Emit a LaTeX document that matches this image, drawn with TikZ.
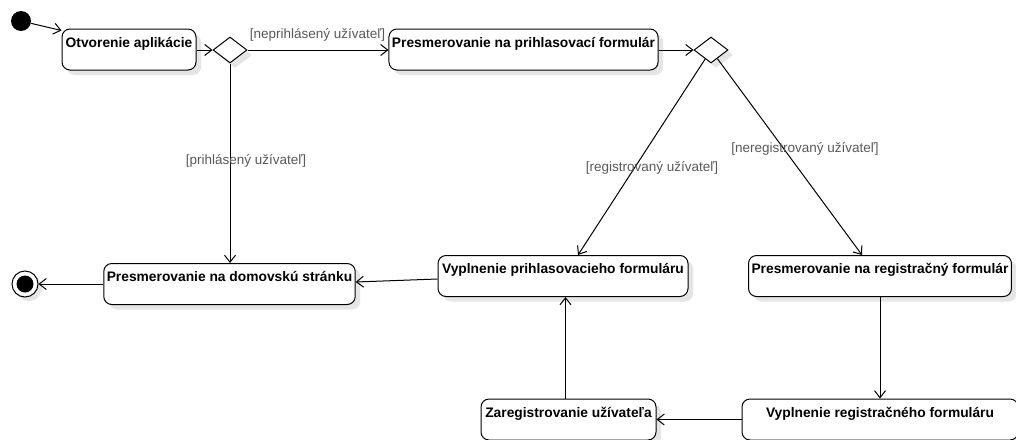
\documentclass[tikz,border=0pt]{standalone}
\usepackage{fontspec}
\setmainfont{Liberation Sans}
\usetikzlibrary{shapes.geometric,arrows.meta,shadows,calc}
\tikzset{
  stbox/.style={draw, line width=1pt, rounded corners=8pt, fill=white,
    font=\fontsize{13.8}{16}\selectfont\bfseries, inner xsep=3pt, inner ysep=5pt,
    text height=13pt, text depth=18pt,
    drop shadow={shadow xshift=5pt, shadow yshift=-5pt, fill=black!10, opacity=1}},
  decis/.style={draw, diamond, line width=1pt, fill=white, inner sep=0pt,
    minimum width=34pt, minimum height=26pt,
    drop shadow={shadow xshift=5pt, shadow yshift=-5pt, fill=black!10, opacity=1}},
  guard/.style={text=black!65, font=\fontsize{13.5}{16}\selectfont, inner sep=0pt},
  flow/.style={line width=1pt, -{Straight Barb[length=7pt,width=11pt]}}
}
\begin{document}
\begin{tikzpicture}[x=1pt,y=-1pt]
\useasboundingbox[fill=white] (0,0) rectangle (1016,439);
% initial and final
\node[circle, fill=black, minimum size=20pt, inner sep=0pt] (start) at (21,21) {};
\node[circle, draw, line width=1pt, fill=white, minimum size=26pt, inner sep=0pt,
  drop shadow={shadow xshift=4pt, shadow yshift=-4pt, fill=black!10, opacity=1}] (fin) at (25,284) {};
\node[circle, fill=black, minimum size=17pt, inner sep=0pt] (finin) at (25,284) {};
% states
\node[stbox, minimum width=134pt] (otv) at (129,49.5) {Otvorenie aplikácie};
\node[decis] (d1) at (230,50) {};
\node[stbox, minimum width=269pt] (pp) at (523.5,49.5) {Presmerovanie na prihlasovací formulár};
\node[decis] (d2) at (711,50) {};
\node[stbox, minimum width=251pt] (dom) at (229.5,284) {Presmerovanie na domovskú stránku};
\node[stbox, minimum width=250pt] (vp) at (563,276) {Vyplnenie prihlasovacieho formuláru};
\node[stbox, minimum width=260pt] (pr) at (880,276) {Presmerovanie na registračný formulár};
\node[stbox, minimum width=175pt] (zar) at (568.5,419.5) {Zaregistrovanie užívateľa};
\node[stbox, minimum width=276pt] (vr) at (880,419.5) {Vyplnenie registračného formuláru};
% flows
\draw[flow] (start) -- ([yshift=-2pt]otv.north west);
\draw[flow] (otv.east |- d1.west) -- (d1.west);
\draw[flow] (d1.east) -- (pp.west |- d1.east);
\draw[flow] (pp.east |- d2.west) -- (d2.west);
\draw[flow] (d1.south) -- (d1.south |- dom.north);
\draw[flow] (d2) -- ([xshift=15pt]vp.north);
\draw[flow] (d2) -- ([xshift=-18pt]pr.north);
\draw[flow] ([yshift=-3pt]vp.west) -- ([yshift=2pt]dom.east);
\draw[flow] (dom.west) -- (fin.east);
\draw[flow] (pr.south) -- (pr.south |- vr.north);
\draw[flow] (vr.west) -- (vr.west -| zar.east);
\draw[flow] ([xshift=-3pt]zar.north) -- ([xshift=-3pt]zar.north |- vp.south);
% guards
\node[guard] (g1) at (317.5,35) {[neprihlásený užívateľ]};
\node[guard] (g2) at (246,161) {[prihlásený užívateľ]};
\node[guard] (g3) at (652,168) {[registrovaný užívateľ]};
\node[guard] (g4) at (805,149) {[neregistrovaný užívateľ]};
\end{tikzpicture}
\end{document}
